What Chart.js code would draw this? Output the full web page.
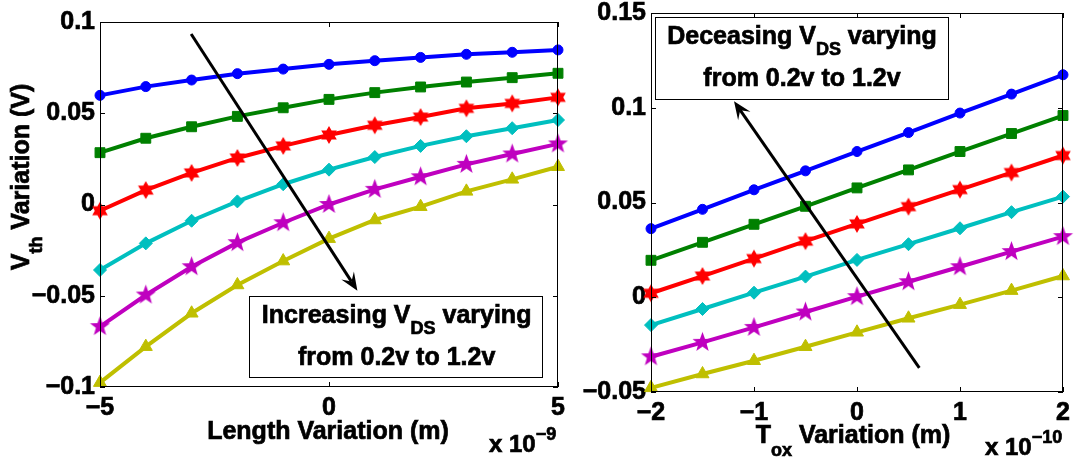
<!DOCTYPE html>
<html>
<head>
<meta charset="utf-8">
<script src="https://cdn.jsdelivr.net/npm/chart.js@4.4.0/dist/chart.umd.min.js"></script>
<style>
  html, body { margin: 0; padding: 0; background: #fff; }
  #wrap { position: relative; width: 1076px; height: 464px; overflow: hidden; }
  canvas { position: absolute; top: 0; }
</style>
</head>
<body>
<div id="wrap">
  <canvas id="lenChart" width="580" height="464" style="left:0"></canvas>
  <canvas id="toxChart" width="496" height="464" style="left:580px"></canvas>
</div>
<script>
// ===== Data =====
// Left panel: Vth variation vs channel length variation (x 1e-9 m)
const lenX = [-5, -4, -3, -2, -1, 0, 1, 2, 3, 4, 5];
const lenBlue    = [0.0598, 0.0646, 0.0682, 0.0717, 0.0742, 0.0768, 0.0788, 0.0806, 0.0823, 0.0834, 0.0847];
const lenGreen   = [0.0284, 0.0363, 0.0426, 0.0483, 0.0530, 0.0576, 0.0613, 0.0644, 0.0671, 0.0695, 0.0719];
const lenRed     = [-0.0034, 0.0079, 0.0173, 0.0255, 0.0321, 0.0381, 0.0434, 0.0479, 0.0527, 0.0554, 0.0587];
const lenCyan    = [-0.0359, -0.0213, -0.0089, 0.0017, 0.0111, 0.0191, 0.0260, 0.0321, 0.0374, 0.0418, 0.0463];
const lenMagenta = [-0.0669, -0.0496, -0.0341, -0.0209, -0.0100, 0.0000, 0.0083, 0.0152, 0.0220, 0.0277, 0.0332];
const lenYellow  = [-0.0976, -0.0779, -0.0596, -0.0441, -0.0310, -0.0187, -0.0085, -0.0012, 0.0072, 0.0138, 0.0207];
const lenXTicks = [-5, 0, 5];
const lenYTicks = [0.1, 0.05, 0, -0.05, -0.1];

// Right panel: Vth variation vs oxide thickness variation (x 1e-10 m)
const toxX = [-2, -1.5, -1, -0.5, 0, 0.5, 1, 1.5, 2];
const toxBlue    = [0.0362, 0.0464, 0.0567, 0.0667, 0.0769, 0.0869, 0.0972, 0.1072, 0.1174];
const toxGreen   = [0.0195, 0.0290, 0.0385, 0.0480, 0.0577, 0.0672, 0.0769, 0.0864, 0.0959];
const toxRed     = [0.0021, 0.0112, 0.0204, 0.0296, 0.0387, 0.0478, 0.0568, 0.0658, 0.0748];
const toxCyan    = [-0.0147, -0.0062, 0.0024, 0.0109, 0.0197, 0.0280, 0.0364, 0.0449, 0.0531];
const toxMagenta = [-0.0314, -0.0238, -0.0159, -0.0078, 0.0003, 0.0082, 0.0161, 0.0241, 0.0320];
const toxYellow  = [-0.0478, -0.0405, -0.0335, -0.0261, -0.0185, -0.0111, -0.0039, 0.0035, 0.0112];
const toxXTicks = [-2, -1, 0, 1, 2];
const toxYTicks = [0.15, 0.1, 0.05, 0, -0.05];

// ===== Styles =====
const FONT = '"Liberation Sans", Arial, Helvetica, sans-serif';
const COLORS = ['#0000FF', '#008000', '#FF0000', '#00BFBF', '#BF00BF', '#BFBF00'];
const HEAVY = 0.7; // extra stroke so text looks as heavy as the MATLAB export

const starImage = (points, outer, inner, color) => {
    const c = document.createElement('canvas');
    const s = Math.ceil(outer * 2 + 2);
    c.width = c.height = s;
    const g = c.getContext('2d');
    g.fillStyle = color;
    g.beginPath();
    for (let i = 0; i < points * 2; i++) {
        const r = i % 2 ? inner : outer;
        const a = -Math.PI / 2 + i * Math.PI / points;
        const px = s / 2 + r * Math.cos(a), py = s / 2 + r * Math.sin(a);
        i ? g.lineTo(px, py) : g.moveTo(px, py);
    }
    g.closePath();
    g.fill();
    return c;
};

const MARKERS = [
    { style: 'circle', radius: 5 },
    { style: 'rect', radius: 7 },
    { style: starImage(6, 9, 5.2, COLORS[2]), radius: 9 },
    { style: 'rectRot', radius: 6.5 },
    { style: starImage(5, 10.5, 4.3, COLORS[4]), radius: 10 },
    { style: 'triangle', radius: 7.5 }
];

const fmtTick = v => String(Math.round(v * 1000) / 1000).replace('-', '\u2212');

// ===== Text helpers =====
const richWidth = (ctx, parts) => parts.reduce((w, p) => {
    ctx.font = `bold ${p.size}px ${FONT}`;
    return w + ctx.measureText(p.text).width;
}, 0);

const drawRich = (ctx, parts, x, y, align) => {
    const w = richWidth(ctx, parts);
    let cx = align === 'center' ? x - w / 2 : align === 'right' ? x - w : x;
    ctx.textAlign = 'left';
    ctx.textBaseline = 'alphabetic';
    ctx.lineWidth = HEAVY;
    ctx.strokeStyle = '#000';
    parts.forEach(p => {
        ctx.font = `bold ${p.size}px ${FONT}`;
        ctx.fillText(p.text, cx, y + (p.dy || 0));
        ctx.strokeText(p.text, cx, y + (p.dy || 0));
        cx += ctx.measureText(p.text).width;
    });
};

// ===== MATLAB-like axes decoration =====
const matlabAxes = {
    id: 'matlabAxes',
    afterDraw(chart, args, o) {
        const { ctx, chartArea: a } = chart;
        const xs = chart.scales.x, ys = chart.scales.y;
        ctx.save();
        ctx.fillStyle = '#000';
        ctx.strokeStyle = '#000';

        // box + inward ticks on all four sides
        ctx.lineWidth = 1;
        ctx.strokeRect(a.left + 0.5, a.top + 0.5, a.width - 1, a.height - 1);
        ctx.beginPath();
        xs.ticks.forEach(t => {
            const px = Math.round(xs.getPixelForValue(t.value)) + 0.5;
            ctx.moveTo(px, a.bottom); ctx.lineTo(px, a.bottom - 5);
            ctx.moveTo(px, a.top); ctx.lineTo(px, a.top + 5);
        });
        ys.ticks.forEach(t => {
            const py = Math.round(ys.getPixelForValue(t.value)) + 0.5;
            ctx.moveTo(a.left, py); ctx.lineTo(a.left + 5, py);
            ctx.moveTo(a.right, py); ctx.lineTo(a.right - 5, py);
        });
        ctx.stroke();

        // annotation arrow
        const ar = o.arrow;
        const x1 = xs.getPixelForValue(ar.from[0]), y1 = ys.getPixelForValue(ar.from[1]);
        const x2 = xs.getPixelForValue(ar.to[0]), y2 = ys.getPixelForValue(ar.to[1]);
        const len = Math.hypot(x2 - x1, y2 - y1);
        const ux = (x2 - x1) / len, uy = (y2 - y1) / len;
        const nx = -uy, ny = ux;
        const L = 18, W = 15;
        ctx.lineWidth = 3;
        ctx.beginPath();
        ctx.moveTo(x1, y1);
        ctx.lineTo(x2 - ux * L * 0.6, y2 - uy * L * 0.6);
        ctx.stroke();
        ctx.beginPath();
        ctx.moveTo(x2, y2);
        ctx.lineTo(x2 - ux * L + nx * W / 2, y2 - uy * L + ny * W / 2);
        ctx.lineTo(x2 - ux * L * 0.6, y2 - uy * L * 0.6);
        ctx.lineTo(x2 - ux * L - nx * W / 2, y2 - uy * L - ny * W / 2);
        ctx.closePath();
        ctx.fill();

        // annotation text box
        const bx = o.note.box;
        const l = xs.getPixelForValue(bx[0]), r = xs.getPixelForValue(bx[1]);
        const t = ys.getPixelForValue(bx[2]), b = ys.getPixelForValue(bx[3]);
        ctx.fillStyle = '#fff';
        ctx.fillRect(l, t, r - l, b - t);
        ctx.lineWidth = 1;
        ctx.strokeRect(Math.round(l) + 0.5, Math.round(t) + 0.5, Math.round(r - l), Math.round(b - t));
        ctx.fillStyle = '#000';
        o.note.lines.forEach((parts, i) => drawRich(ctx, parts, (l + r) / 2 + 1, t + 27 + i * 42, 'center'));

        // axis titles
        drawRich(ctx, o.xTitle.parts, o.xTitle.x, o.xTitle.y, 'center');
        ctx.save();
        if (o.yTitle) {
            ctx.translate(o.yTitle.x, o.yTitle.y);
            ctx.rotate(-Math.PI / 2);
            drawRich(ctx, o.yTitle.parts, 0, 0, 'center');
        }
        ctx.restore();

        // exponent multiplier
        drawRich(ctx, o.expo.parts, o.expo.x, o.expo.y, 'left');
        ctx.restore();
    }
};

// ===== Chart factory =====
const tickFont = { family: FONT, size: 25, weight: 'bold' };

const makeChart = (id, xVals, series, xTicks, yTicks, cfg) => new Chart(document.getElementById(id), {
    type: 'line',
    data: {
        datasets: series.map((vals, i) => ({
            data: vals.map((v, k) => ({ x: xVals[k], y: v })),
            borderColor: COLORS[i],
            backgroundColor: COLORS[i],
            borderWidth: 4,
            pointStyle: MARKERS[i].style,
            pointRadius: MARKERS[i].radius,
            pointBorderWidth: 1,
            pointBorderColor: COLORS[i],
            pointBackgroundColor: COLORS[i],
            tension: 0,
            clip: false
        }))
    },
    options: {
        responsive: false,
        animation: false,
        events: [],
        layout: { autoPadding: false, padding: { top: cfg.top, right: cfg.right, left: 0, bottom: 0 } },
        plugins: { legend: { display: false }, tooltip: { enabled: false }, matlabAxes: cfg.decor },
        scales: {
            x: {
                type: 'linear', min: cfg.xMin, max: cfg.xMax,
                grid: { display: false, drawTicks: false },
                border: { display: false },
                ticks: { color: '#000', font: tickFont, padding: 6, maxRotation: 0, callback: fmtTick,
                         textStrokeColor: '#000', textStrokeWidth: HEAVY },
                afterBuildTicks: s => { s.ticks = xTicks.map(v => ({ value: v })); },
                afterFit: s => { s.height = cfg.xh; s.paddingLeft = 0; s.paddingRight = 0; }
            },
            y: {
                type: 'linear', min: cfg.yMin, max: cfg.yMax,
                grid: { display: false, drawTicks: false },
                border: { display: false },
                ticks: { color: '#000', font: tickFont, padding: 5, callback: fmtTick,
                         textStrokeColor: '#000', textStrokeWidth: HEAVY },
                afterBuildTicks: s => { s.ticks = yTicks.map(v => ({ value: v })); },
                afterFit: s => { s.width = cfg.yw; s.paddingTop = 0; s.paddingBottom = 0; }
            }
        }
    },
    plugins: [matlabAxes]
});

const vdsNote = word => [
    [{ text: word + ' V', size: 25 }, { text: 'DS', size: 18, dy: 11 }, { text: ' varying', size: 25 }],
    [{ text: 'from 0.2v to 1.2v', size: 25 }]
];

makeChart('lenChart', lenX, [lenBlue, lenGreen, lenRed, lenCyan, lenMagenta, lenYellow], lenXTicks, lenYTicks, {
    xMin: -5, xMax: 5, yMin: -0.1, yMax: 0.1,
    top: 22, right: 22, yw: 100, xh: 77,
    decor: {
        arrow: { from: [-3.01, 0.0934], to: [0.62, -0.0472] },
        note: { box: [-1.74, 4.65, -0.05, -0.0944], lines: vdsNote('Increasing') },
        xTitle: { parts: [{ text: 'Length Variation (m)', size: 25 }], x: 328, y: 439 },
        yTitle: { parts: [{ text: 'V', size: 25 }, { text: 'th', size: 18, dy: 13 }, { text: ' Variation (V)', size: 25 }], x: 29, y: 177 },
        expo: { parts: [{ text: 'x 10', size: 24 }, { text: '\u22129', size: 18, dy: -12 }], x: 489, y: 452 }
    }
});

makeChart('toxChart', toxX, [toxBlue, toxGreen, toxRed, toxCyan, toxMagenta, toxYellow], toxXTicks, toxYTicks, {
    xMin: -2, xMax: 2, yMin: -0.05, yMax: 0.15,
    top: 13, right: 13, yw: 71, xh: 72,
    decor: {
        arrow: { from: [0.605, -0.0373], to: [-1.194, 0.1034] },
        note: { box: [-1.964, 0.877, 0.1477, 0.1046], lines: vdsNote('Deceasing') },
        xTitle: { parts: [{ text: 'T', size: 25 }, { text: 'ox', size: 18, dy: 13 }, { text: ' Variation (m)', size: 25 }], x: 273, y: 443 },
        expo: { parts: [{ text: 'x 10', size: 24 }, { text: '\u221210', size: 18, dy: -12 }], x: 405, y: 455 }
    }
});
</script>
</body>
</html>
